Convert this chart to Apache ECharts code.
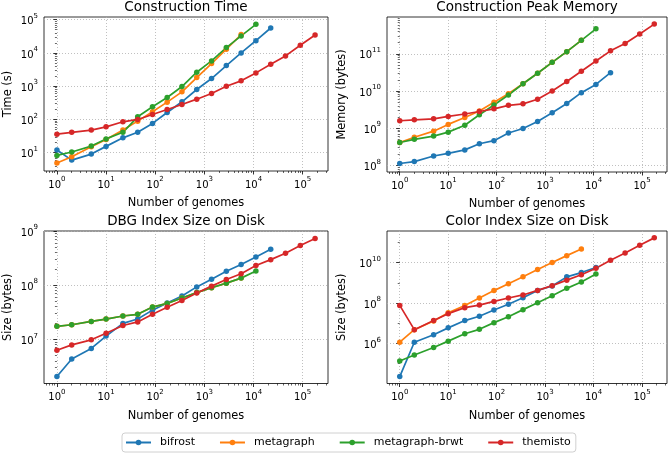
<!DOCTYPE html>
<html>
<head>
<meta charset="utf-8">
<script src="https://cdn.jsdelivr.net/npm/echarts@6/dist/echarts.min.js"></script>
<style>html,body{margin:0;padding:0;background:#fff}#c{width:670px;height:454px}</style>
</head>
<body>
<div id="c"></div>
<script>
// ---- data ----
const genomes = [1, 2, 5, 10, 22, 44, 88, 175, 350, 700, 1400, 2800, 5600, 11200, 22400, 44800, 89600, 179200];
const methods = ['bifrost', 'metagraph', 'metagraph-brwt', 'themisto'];
const panelTitles = ['Construction Time', 'Construction Peak Memory', 'DBG Index Size on Disk', 'Color Index Size on Disk'];
const yAxisNames = ['Time (s)', 'Memory (bytes)', 'Size (bytes)', 'Size (bytes)'];
const xAxisName = 'Number of genomes';

// Construction time (s)
const bifrostTime   = [12, 6, 9.1, 15.5, 28, 41, 76, 162, 339, 794, 1700, 4170, 10000, 23400, 56200];
const metagraphTime = [4.9, 7.6, 15, 25, 48, 89, 170, 331, 676, 1820, 4790, 12900, 35500];
const brwtTime      = [8.3, 10.5, 15.8, 26, 41, 120, 240, 457, 977, 2630, 5750, 14500, 32400, 72400];
const themistoTime  = [36, 41, 48, 60, 85, 100, 141, 200, 282, 407, 603, 1000, 1445, 2512, 4570, 8128, 17000, 34700];

// Construction peak memory (bytes)
const bifrostMem   = [1.12e8, 1.26e8, 1.78e8, 2.1e8, 2.6e8, 3.8e8, 4.6e8, 7.4e8, 9.8e8, 1.5e9, 2.6e9, 4.6e9, 9e9, 1.5e10, 3.1e10];
const metagraphMem = [4.1e8, 5.7e8, 8.3e8, 1.26e9, 1.94e9, 2.9e9, 5.0e9, 8.4e9, 1.56e10, 3.0e10, 5.9e10, 1.14e11, 2.3e11];
const brwtMem      = [4.1e8, 5.0e8, 6.1e8, 7.8e8, 1.2e9, 2.3e9, 4.2e9, 7.8e9, 1.56e10, 3.0e10, 5.9e10, 1.14e11, 2.3e11, 4.7e11];
const themistoMem  = [1.58e9, 1.67e9, 1.78e9, 2.07e9, 2.4e9, 2.8e9, 3.3e9, 4.1e9, 4.5e9, 6.0e9, 1.0e10, 1.8e10, 3.4e10, 6.4e10, 1.2e11, 1.9e11, 3.4e11, 6.3e11];

// DBG index size on disk (bytes)
const bifrostDbg   = [2.06e6, 4.35e6, 6.8e6, 1.15e7, 1.97e7, 2.37e7, 3.46e7, 4.7e7, 6.3e7, 9.3e7, 1.29e8, 1.8e8, 2.4e8, 3.3e8, 4.6e8];
const metagraphDbg = [1.74e7, 1.86e7, 2.14e7, 2.37e7, 2.7e7, 2.9e7, 3.94e7, 4.6e7, 5.8e7, 7.3e7, 8.96e7, 1.09e8, 1.35e8];
const brwtDbg      = [1.74e7, 1.86e7, 2.14e7, 2.37e7, 2.7e7, 2.9e7, 3.94e7, 4.6e7, 5.8e7, 7.3e7, 8.96e7, 1.09e8, 1.35e8, 1.83e8];
const themistoDbg  = [6.3e6, 7.9e6, 9.8e6, 1.3e7, 1.8e7, 2.1e7, 2.9e7, 3.9e7, 5.2e7, 7.2e7, 9.6e7, 1.27e8, 1.63e8, 2.3e8, 2.96e8, 3.9e8, 5.4e8, 7.3e8];

// Color index size on disk (bytes)
const bifrostColor   = [2.3e4, 1.15e6, 2.7e6, 5.9e6, 1.35e7, 2.2e7, 4.5e7, 8.6e7, 1.8e8, 4.2e8, 6.9e8, 1.96e9, 3.2e9, 5.7e9];
const metagraphColor = [1.15e6, 4.8e6, 1.3e7, 3.3e7, 7.6e7, 1.77e8, 4.1e8, 9e8, 2.0e9, 4.5e9, 1e10, 2.2e10, 4.7e10];
const brwtColor      = [1.35e5, 2.7e5, 6.3e5, 1.3e6, 3.0e6, 5.0e6, 1.07e7, 2.1e7, 4.7e7, 1.04e8, 2.3e8, 5.3e8, 1.1e9, 2.7e9];
const themistoColor  = [7.6e7, 4.8e6, 1.35e7, 2.97e7, 5.9e7, 7.9e7, 1.2e8, 1.77e8, 2.5e8, 4.2e8, 7.2e8, 1.35e9, 2.5e9, 5.2e9, 1.3e10, 3.0e10, 7.2e10, 1.66e11];

// tick exponents (labels are 10^n)
const xMajorExp = [0, 1, 2, 3, 4, 5];
const yMajorExp = [[1, 2, 3, 4, 5], [8, 9, 10, 11], [7, 8, 9], [6, 8, 10]];

const panelData = [
  [bifrostTime, metagraphTime, brwtTime, themistoTime],
  [bifrostMem, metagraphMem, brwtMem, themistoMem],
  [bifrostDbg, metagraphDbg, brwtDbg, themistoDbg],
  [bifrostColor, metagraphColor, brwtColor, themistoColor]
];

// ---- layout / style ----
const F = 'DejaVu Sans';
const colors = ['#1f77b4', '#ff7f0e', '#2ca02c', '#d62728'];
const grids = [
  {left: 44, top: 17, width: 284, height: 154},
  {left: 387, top: 17, width: 280, height: 155},
  {left: 44, top: 231, width: 284, height: 152.5},
  {left: 387, top: 231, width: 280, height: 152.5}
];
const xRange = [-0.263, 5.516];
const yRanges = [[0.45, 5.08], [7.82, 11.99], [6.185, 9.0], [4.02, 11.56]];
const yNameGap = [30, 39, 30, 39];

function subMinor(lo, hi) {
  const out = [];
  for (let n = Math.floor(lo) - 1; n <= Math.ceil(hi); n++) {
    for (let k = 2; k <= 9; k++) {
      const v = n + Math.log10(k);
      if (v >= lo && v <= hi) out.push(v);
    }
  }
  return out;
}
function decadeMinor(lo, hi, majors) {
  const out = [];
  for (let n = Math.ceil(lo); n <= Math.floor(hi); n++) if (majors.indexOf(n) < 0) out.push(n);
  return out;
}

const labelRich = {
  b: {fontFamily: F, fontSize: 10, color: '#000', lineHeight: 14, verticalAlign: 'bottom'},
  s: {fontFamily: F, fontSize: 7, color: '#000', lineHeight: 8, verticalAlign: 'top'}
};
const fmt = v => '{b|10}{s|' + Math.round(v) + '}';
const tickColor = '#000';

const option = {
  animation: false,
  backgroundColor: '#fff',
  textStyle: {fontFamily: F},
  title: panelTitles.map((t, i) => ({
    text: t,
    left: grids[i].left + grids[i].width / 2,
    top: grids[i].top - 17,
    textAlign: 'center',
    padding: 0,
    textStyle: {fontFamily: F, fontSize: 13.5, fontWeight: 'normal', color: '#000'}
  })),
  legend: {
    data: methods,
    left: 122,
    top: 433,
    itemWidth: 25,
    itemHeight: 7,
    itemGap: 24,
    padding: [4, 5, 4, 3],
    borderColor: '#d0d0d0',
    borderWidth: 1,
    borderRadius: 3,
    textStyle: {fontFamily: F, fontSize: 11, color: '#000', padding: [0, 0, 0, 4]}
  },
  grid: grids.map(g => Object.assign({show: true, borderColor: '#000', borderWidth: 0.8, backgroundColor: 'transparent'}, g)),
  xAxis: [],
  yAxis: [],
  series: []
};

for (let p = 0; p < 4; p++) {
  option.xAxis.push({
    type: 'value', gridIndex: p, min: xRange[0], max: xRange[1], position: 'bottom',
    name: xAxisName, nameLocation: 'middle', nameGap: 27,
    nameTextStyle: {fontFamily: F, fontSize: 11.4, color: '#000'},
    axisLine: {show: false},
    axisTick: {show: true, length: 3.5, customValues: xMajorExp, lineStyle: {color: tickColor, width: 0.8}},
    axisLabel: {customValues: xMajorExp, formatter: fmt, rich: labelRich, margin: 5},
    splitLine: {show: true, lineStyle: {color: '#b0b0b0', type: [1, 2], width: 0.8}}
  });
  option.xAxis.push({
    type: 'value', gridIndex: p, min: xRange[0], max: xRange[1], position: 'bottom',
    axisLine: {show: false},
    axisTick: {show: true, length: 2, customValues: subMinor(xRange[0], xRange[1]), lineStyle: {color: tickColor, width: 0.6}},
    axisLabel: {show: false},
    splitLine: {show: false}
  });
  const yr = yRanges[p];
  option.yAxis.push({
    type: 'value', gridIndex: p, min: yr[0], max: yr[1], position: 'left',
    name: yAxisNames[p], nameLocation: 'middle', nameGap: yNameGap[p], nameRotate: 90,
    nameTextStyle: {fontFamily: F, fontSize: 11.4, color: '#000'},
    axisLine: {show: false},
    axisTick: {show: true, length: 3.5, customValues: yMajorExp[p], lineStyle: {color: tickColor, width: 0.8}},
    axisLabel: {customValues: yMajorExp[p], formatter: fmt, rich: labelRich, margin: 6},
    splitLine: {show: true, lineStyle: {color: '#b0b0b0', type: [1, 2], width: 0.8}}
  });
  option.yAxis.push({
    type: 'value', gridIndex: p, min: yr[0], max: yr[1], position: 'left',
    axisLine: {show: false},
    axisTick: {show: true, length: 2, customValues: p === 3 ? decadeMinor(yr[0], yr[1], yMajorExp[p]) : subMinor(yr[0], yr[1]), lineStyle: {color: tickColor, width: 0.6}},
    axisLabel: {show: false},
    splitLine: {show: false}
  });
  for (let m = 0; m < 4; m++) {
    const vals = panelData[p][m];
    option.series.push({
      type: 'line', name: methods[m],
      xAxisIndex: 2 * p, yAxisIndex: 2 * p,
      data: vals.map((v, i) => [Math.log10(genomes[i]), Math.log10(v)]),
      symbol: 'circle', symbolSize: 5.5, showAllSymbol: true,
      lineStyle: {color: colors[m], width: 1.7},
      itemStyle: {color: colors[m]},
      color: colors[m],
      emphasis: {disabled: true}
    });
  }
}

const chart = echarts.init(document.getElementById('c'), null, {renderer: 'canvas'});
chart.setOption(option);
</script>
</body>
</html>
